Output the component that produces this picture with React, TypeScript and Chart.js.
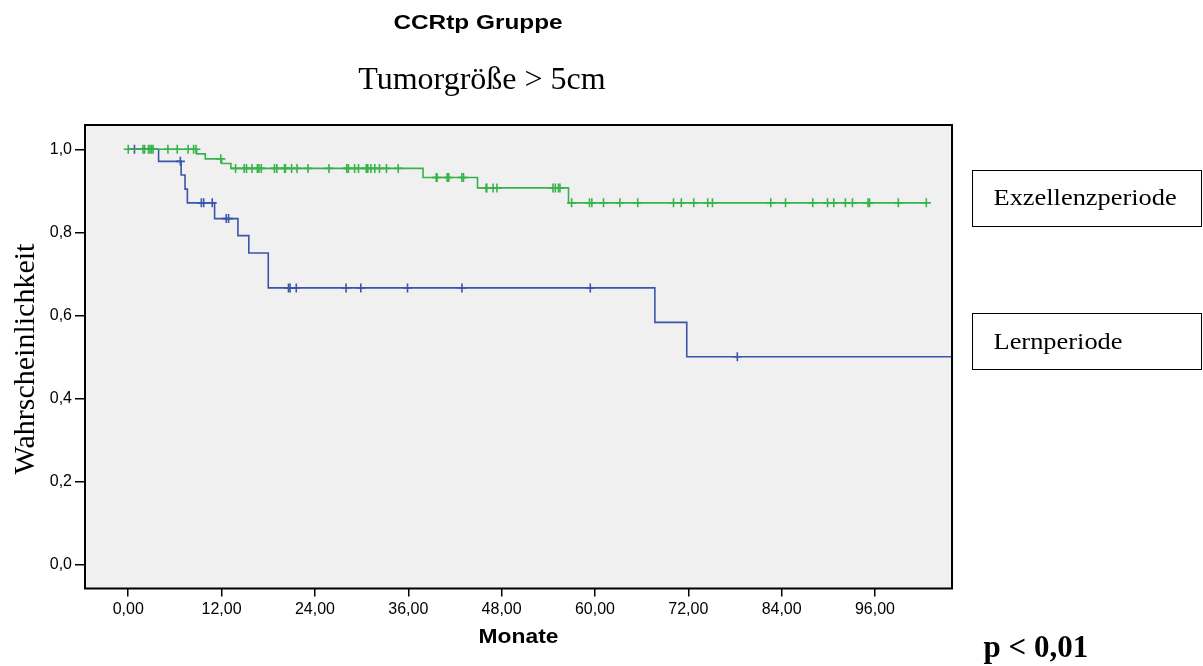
import { useEffect, useRef } from 'react';
import { Chart, registerables } from 'chart.js';

Chart.register(...registerables);

// ---- Data ----
const chartTitle = 'CCRtp Gruppe';
const chartSubtitle = 'Tumorgröße > 5cm';
const xAxisTitle = 'Monate';
const yAxisTitle = 'Wahrscheinlichkeit';
const pValueText = 'p < 0,01';
const seriesNames = ['Exzellenzperiode', 'Lernperiode'];

const xTickValues = [0, 12, 24, 36, 48, 60, 72, 84, 96];
const yTickValues = [0, 0.2, 0.4, 0.6, 0.8, 1.0];

// Exzellenzperiode (green): step times and survival after each step
const exzTimes = [0, 8.8, 9.9, 12.0, 13.2, 37.9, 44.9, 56.6, 102.6];
const exzSurvival = [1.0, 0.989, 0.977, 0.966, 0.954, 0.932, 0.907, 0.871, 0.871];
const exzCensorTimes = [
  0.0, 1.9, 2.1, 2.6, 2.8, 3.0, 3.2, 5.1, 6.3, 7.7, 8.4, 8.7, 11.9,
  13.8, 14.9, 15.2, 15.9, 16.6, 16.8, 17.1, 18.8, 19.1, 20.1, 20.2, 21.0, 21.7,
  23.1, 25.8, 28.1, 28.3, 29.1, 29.6, 30.6, 30.8, 31.2, 31.7, 32.3, 33.2, 34.7,
  39.6, 39.7, 41.0, 41.2, 42.9, 43.1,
  46.0, 46.1, 46.9, 47.4, 54.6, 54.9, 55.3, 55.5,
  57.0, 59.3, 59.6, 61.1, 63.2, 65.5, 70.1, 71.1, 72.7, 74.5, 75.1, 82.6, 84.5,
  88.0, 89.9, 90.7, 92.2, 93.1, 95.1, 95.3, 99.0, 102.6,
];

// Lernperiode (blue)
const lernTimes = [0, 3.9, 6.8, 7.3, 7.6, 11.1, 14.1, 15.5, 18.0, 67.7, 71.8, 105.9];
const lernSurvival = [1.0, 0.971, 0.938, 0.904, 0.871, 0.833, 0.792, 0.75, 0.666, 0.583, 0.5, 0.5];
const lernCensorTimes = [
  0.8, 6.7, 9.4, 9.7, 10.8, 12.6, 12.9, 20.6, 20.8, 21.6, 28.0, 29.9, 35.9, 42.9, 59.4, 78.3,
];

const greenColor = '#38b34b';
const blueColor = '#3b55aa';

function survivalAt(times: number[], surv: number[], t: number): number {
  let v = surv[0];
  for (let i = 0; i < times.length; i++) {
    if (times[i] <= t) v = surv[i];
  }
  return v;
}

const SANS = '"Liberation Sans", Arial, sans-serif';
const SERIF = '"Liberation Serif", "Times New Roman", serif';

function drawScaledText(
  ctx: CanvasRenderingContext2D,
  text: string,
  x: number,
  y: number,
  font: string,
  sx: number,
  align: CanvasTextAlign
) {
  ctx.save();
  ctx.font = font;
  ctx.textAlign = align;
  ctx.textBaseline = 'alphabetic';
  ctx.translate(x, y);
  ctx.scale(sx, 1);
  ctx.fillText(text, 0, 0);
  ctx.restore();
}

const decorPlugin = {
  id: 'decor',
  beforeDraw(chart: any) {
    const { ctx, chartArea } = chart;
    ctx.save();
    ctx.fillStyle = '#f0f0f0';
    ctx.fillRect(chartArea.left, chartArea.top, chartArea.right - chartArea.left, chartArea.bottom - chartArea.top);
    ctx.restore();
  },
  afterDraw(chart: any) {
    const { ctx, chartArea } = chart;
    ctx.save();
    // frame
    ctx.strokeStyle = '#000';
    ctx.lineWidth = 2;
    ctx.strokeRect(chartArea.left, chartArea.top, chartArea.right - chartArea.left, chartArea.bottom - chartArea.top);

    ctx.fillStyle = '#000';
    // titles
    drawScaledText(ctx, chartTitle, 478, 28.5, `bold 21px ${SANS}`, 1.16, 'center');
    drawScaledText(ctx, chartSubtitle, 482, 88.5, `32px ${SERIF}`, 1, 'center');
    // x axis title
    drawScaledText(ctx, xAxisTitle, (chartArea.left + chartArea.right) / 2, 642.5, `bold 20px ${SANS}`, 1.14, 'center');
    // y axis title
    ctx.save();
    ctx.translate(33.5, 359);
    ctx.rotate(-Math.PI / 2);
    ctx.font = `30px ${SERIF}`;
    ctx.textAlign = 'center';
    ctx.textBaseline = 'alphabetic';
    ctx.fillText(yAxisTitle, 0, 0);
    ctx.restore();

    // legend boxes
    ctx.lineWidth = 1;
    ctx.strokeStyle = '#000';
    ctx.strokeRect(972.5, 170.5, 229, 56);
    ctx.strokeRect(972.5, 313.5, 229, 56);
    drawScaledText(ctx, seriesNames[0], 993.5, 205, `24px ${SERIF}`, 1.1, 'left');
    drawScaledText(ctx, seriesNames[1], 993.5, 348.5, `24px ${SERIF}`, 1.1, 'left');

    // p value
    drawScaledText(ctx, pValueText, 983.5, 656.5, `bold 31px ${SERIF}`, 1, 'left');
    ctx.restore();
  },
};

export default function App() {
  const canvasRef = useRef<HTMLCanvasElement | null>(null);

  useEffect(() => {
    const canvas = canvasRef.current;
    if (!canvas) return;

    const exzLine = exzTimes.map((t, i) => ({ x: t, y: exzSurvival[i] }));
    const lernLine = lernTimes.map((t, i) => ({ x: t, y: lernSurvival[i] }));
    const exzCensor = exzCensorTimes.map((t) => ({ x: t, y: survivalAt(exzTimes, exzSurvival, t) }));
    const lernCensor = lernCensorTimes.map((t) => ({ x: t, y: survivalAt(lernTimes, lernSurvival, t) }));

    const chart = new Chart(canvas, {
      type: 'scatter',
      data: {
        datasets: [
          {
            label: seriesNames[0],
            data: exzLine,
            showLine: true,
            stepped: 'before',
            borderColor: greenColor,
            borderWidth: 1.6,
            pointRadius: 0,
            fill: false,
          },
          {
            label: seriesNames[1],
            data: lernLine,
            showLine: true,
            stepped: 'before',
            borderColor: blueColor,
            borderWidth: 1.6,
            pointRadius: 0,
            fill: false,
          },
          {
            label: seriesNames[0] + ' zensiert',
            data: exzCensor,
            showLine: false,
            pointStyle: 'cross',
            pointRadius: 4.5,
            borderColor: greenColor,
            backgroundColor: greenColor,
            borderWidth: 1.6,
          },
          {
            label: seriesNames[1] + ' zensiert',
            data: lernCensor,
            showLine: false,
            pointStyle: 'cross',
            pointRadius: 4.5,
            borderColor: blueColor,
            backgroundColor: blueColor,
            borderWidth: 1.6,
          },
        ] as any,
      },
      options: {
        animation: false,
        responsive: false,
        maintainAspectRatio: false,
        devicePixelRatio: 1,
        layout: { padding: { left: 0, right: 251, top: 125, bottom: 0 } },
        plugins: {
          legend: { display: false },
          tooltip: { enabled: false },
          title: { display: false },
        },
        scales: {
          x: {
            type: 'linear',
            min: -5.56,
            max: 105.9,
            afterBuildTicks: (scale: any) => {
              scale.ticks = xTickValues.map((v) => ({ value: v }));
            },
            afterFit: (scale: any) => {
              scale.height = 77.5;
            },
            ticks: {
              color: '#000',
              padding: 3,
              maxRotation: 0,
              font: { family: SANS, size: 16 },
              callback: (v: any) => Number(v).toFixed(2).replace('.', ','),
            },
            grid: {
              drawOnChartArea: false,
              drawTicks: true,
              tickLength: 8,
              color: '#000',
              lineWidth: 1.5,
            },
            border: { display: false },
          },
          y: {
            type: 'linear',
            min: -0.0583,
            max: 1.0586,
            afterBuildTicks: (scale: any) => {
              scale.ticks = yTickValues.map((v) => ({ value: v }));
            },
            afterFit: (scale: any) => {
              scale.width = 85;
            },
            ticks: {
              color: '#000',
              padding: 3,
              font: { family: SANS, size: 16 },
              callback: (v: any) => Number(v).toFixed(1).replace('.', ','),
            },
            grid: {
              drawOnChartArea: false,
              drawTicks: true,
              tickLength: 10,
              color: '#000',
              lineWidth: 1.5,
            },
            border: { display: false },
          },
        },
      } as any,
      plugins: [decorPlugin],
    });

    return () => {
      chart.destroy();
    };
  }, []);

  return (
    <div style={{ position: 'absolute', left: 0, top: 0, width: 1203, height: 666, background: '#fff' }}>
      <canvas ref={canvasRef} width={1203} height={666} style={{ display: 'block' }} />
    </div>
  );
}
